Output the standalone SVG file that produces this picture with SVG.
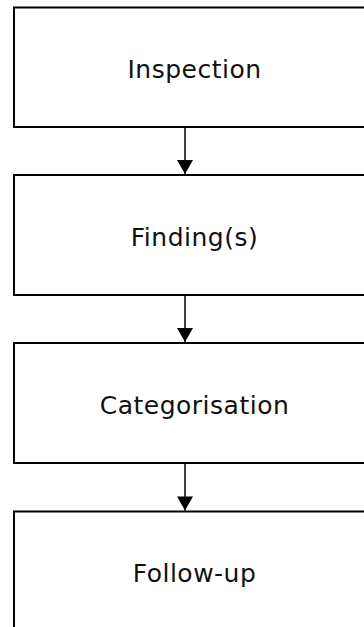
<svg xmlns="http://www.w3.org/2000/svg" width="364" height="627" viewBox="0 0 364 627">
<style>
.box{fill:#fff;stroke:#000;stroke-width:2}
.lbl{font-family:"DejaVu Sans",Verdana,sans-serif;font-size:25px;letter-spacing:0.5px;fill:#111;text-anchor:middle}
.conn{stroke:#000;stroke-width:1.5;fill:none}
</style>
<defs>
<marker id="ah" markerUnits="userSpaceOnUse" markerWidth="15" markerHeight="16" refX="14" refY="8" orient="auto" viewBox="0 0 14 16">
<path d="M0,0 L14,8 L0,16 Z" fill="#000"/>
</marker>
</defs>
<rect width="364" height="627" fill="#fff"/>
<g id="n1"><rect class="box" x="14" y="7.5" width="370" height="119.5"/><text class="lbl" x="194.5" y="77.5">Inspection</text></g>
<g id="n2"><rect class="box" x="14" y="175" width="370" height="120"/><text class="lbl" x="194.5" y="245.5">Finding(s)</text></g>
<g id="n3"><rect class="box" x="14" y="343" width="370" height="120"/><text class="lbl" x="194.5" y="413.5">Categorisation</text></g>
<g id="n4"><rect class="box" x="14" y="511.5" width="370" height="130"/><text class="lbl" x="194.5" y="582">Follow-up</text></g>
<g id="connectors">
<line class="conn" x1="185" y1="128" x2="185" y2="174" marker-end="url(#ah)"/>
<line class="conn" x1="185" y1="296" x2="185" y2="342" marker-end="url(#ah)"/>
<line class="conn" x1="185" y1="464" x2="185" y2="510.5" marker-end="url(#ah)"/>
</g>
</svg>
